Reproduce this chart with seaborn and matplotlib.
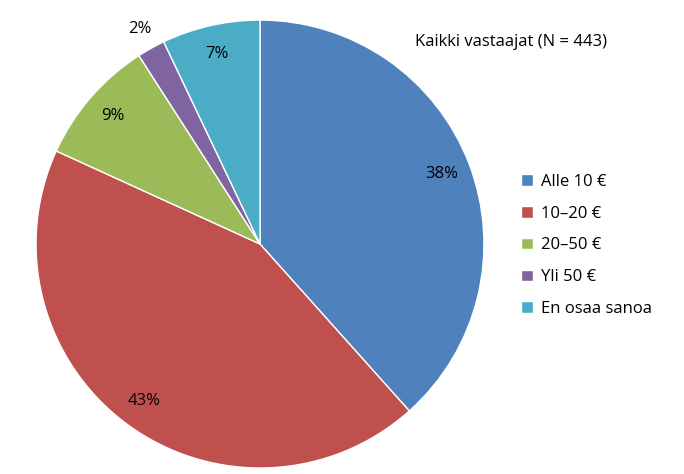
import matplotlib
matplotlib.use("Agg")
import matplotlib.pyplot as plt
import seaborn as sns
import numpy as np

categories = ["Alle 10 €", "10–20 €", "20–50 €", "Yli 50 €", "En osaa sanoa"]
values = [38, 43, 9, 2, 7]
colors = ["#4F81BD", "#C0504D", "#9BBB59", "#8064A2", "#4BACC6"]
title = "Kaikki vastaajat (N = 443)"

sns.set_theme(style="white")
plt.rcParams['font.family'] = ['Open Sans', 'DejaVu Sans']

fig = plt.figure(figsize=(6.84, 4.74), dpi=100)
ax = fig.add_axes([0.0526, 0.0127, 0.655, 0.945])
wedges, texts, autotexts = ax.pie(values, colors=colors, startangle=90, counterclock=False,
                                  autopct=lambda p: f"{p:.0f}%", pctdistance=0.87,
                                  wedgeprops=dict(edgecolor="white", linewidth=1),
                                  textprops=dict(fontsize=12, color="black"))
for v, t in zip(values, autotexts):
    t.set_text(f"{v}%")
x, y = autotexts[3].get_position()
autotexts[3].set_position((x / 0.87 * 1.1, y / 0.87 * 1.1))
ax.set_aspect("equal")
ax.set_xlim(-1, 1)
ax.set_ylim(-1, 1)

fig.text(0.607, 0.912, title, fontsize=12, va="center", ha="left", color="black")
fig.legend(wedges, categories, loc="upper left", bbox_to_anchor=(0.74, 0.665),
           frameon=False, fontsize=12, handlelength=0.7, handleheight=0.7,
           labelspacing=0.95, handletextpad=0.5, labelcolor="black")
fig.savefig("out.png", dpi=100)
